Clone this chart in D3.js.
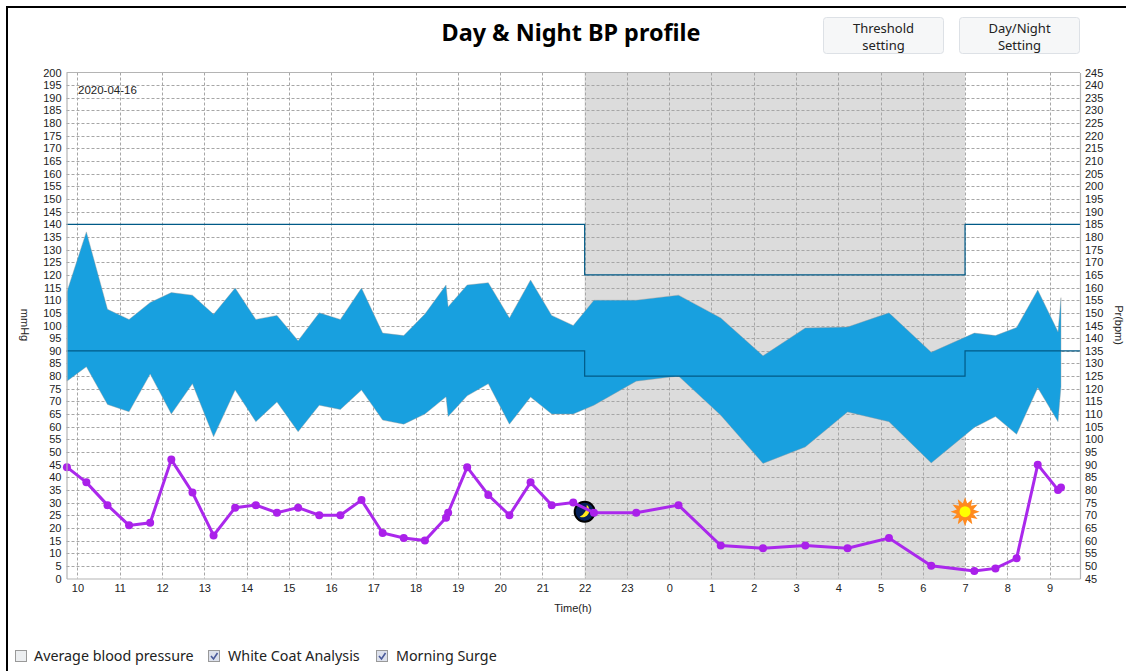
<!DOCTYPE html>
<html>
<head>
<meta charset="utf-8">
<script src="https://cdn.jsdelivr.net/npm/d3@7"></script>
<style>
  html, body { margin: 0; padding: 0; background: #fff; overflow: hidden; }
  text { font-family: "Noto Sans", sans-serif; fill: #222; }
  .tick text { font-family: "Liberation Sans", sans-serif; font-size: 11px; fill: #222; }
  .chico { font-family: "Liberation Sans", sans-serif; font-size: 11px; }
</style>
</head>
<body>
<div id="grafica"></div>
<script>
// hours counted from midnight of the first day, 24+ is the next morning
var horas = [9.75, 10.21, 10.71, 11.22, 11.72, 12.22, 12.72, 13.22, 13.73, 14.22, 14.72, 15.22, 15.72, 16.22, 16.72, 17.22, 17.72, 18.22, 18.72, 18.77, 19.22, 19.72, 20.22, 20.72, 21.22, 21.73, 22.22, 23.22, 24.22, 25.22, 26.22, 27.22, 28.22, 29.2, 30.2, 31.22, 31.72, 32.22, 32.72, 33.2, 33.27];
var sistolica = [113.3, 137, 106.4, 102.4, 109.1, 113, 112, 104.4, 114.8, 102.4, 104, 94, 105, 102.4, 114.8, 97, 96, 104.5, 116, 107.4, 116, 116.9, 103, 118, 104, 100, 110, 110, 112, 103, 88, 99, 99.4, 105, 89.4, 97, 96, 99.2, 114, 97.5, 111];
var diastolica = [78, 83.7, 68.8, 65.9, 80.8, 65, 77, 56, 74.5, 62, 69.8, 58, 68.5, 66.8, 74.5, 62.6, 61, 65, 71.8, 64, 72.2, 77, 61, 71.7, 65, 65, 68.5, 78, 80, 64.5, 45.5, 52, 65.8, 62, 45.7, 59.7, 64, 57, 75.4, 62, 75.8];
var pulso = [89, 83, 74, 66, 67, 92, 79, 62, 73, 74, 71, 73, 70, 70, 76, 63, 61, 60, 69, 71, 89, 78, 70, 83, 74, 75, 71, 71, 74, 58, 57, 58, 57, 61, 50, 48, 49, 53, 90, 80, 81];

var umbralHoras = [9.74, 22, 31, 33.72];
var umbralAlto = [140, 120, 140, 140];
var umbralBajo = [90, 80, 90, 90];

var inicioNoche = 22;
var finNoche = 31;
var marcaIconos = 26.4;

var ticksHora = d3.range(10, 34);
var ticksPresion = d3.range(0, 205, 5);
var ticksPulso = d3.range(45, 250, 5);

var checks = [
  { nombre: 'Average blood pressure', x: 15, texto: 34, marcado: false },
  { nombre: 'White Coat Analysis', x: 208, texto: 228, marcado: true },
  { nombre: 'Morning Surge', x: 376, texto: 396, marcado: true }
];
var botones = [
  { lineas: ['Threshold', 'setting'], x: 823.5 },
  { lineas: ['Day/Night', 'Setting'], x: 959.5 }
];

var contenedor = d3
  .select('#grafica')
  .append('svg')
  .attr('width', 1126)
  .attr('height', 671)
  .style('display', 'block');

const xScale = d3.scaleLinear().domain([9.74, 33.72]).range([66.5, 1080]);
const yScale = d3.scaleLinear().domain([0, 200]).range([578.5, 72.5]);
const yPulso = d3.scaleLinear().domain([45, 245]).range([578.5, 72.5]);

// page frame
contenedor.append('path')
  .attr('d', 'M7,671V7H1126')
  .attr('fill', 'none')
  .attr('stroke', '#000')
  .attr('stroke-width', 2);

contenedor.append('text')
  .attr('x', 571)
  .attr('y', 41)
  .attr('text-anchor', 'middle')
  .style('font-size', '23.4px')
  .style('font-weight', 'bold')
  .style('fill', '#000')
  .text('Day & Night BP profile');

// buttons
botones.forEach(function (b) {
  contenedor.append('rect')
    .attr('x', b.x)
    .attr('y', 17.5)
    .attr('width', 120)
    .attr('height', 36)
    .attr('rx', 3)
    .attr('fill', '#f6f7f8')
    .attr('stroke', '#dde1e6');
  b.lineas.forEach(function (l, i) {
    contenedor.append('text')
      .attr('x', b.x + 60)
      .attr('y', 33 + i * 17)
      .attr('text-anchor', 'middle')
      .style('font-size', '13px')
      .text(l);
  });
});

// night band
contenedor.append('rect')
  .attr('x', xScale(inicioNoche))
  .attr('y', yScale(200))
  .attr('width', xScale(finNoche) - xScale(inicioNoche))
  .attr('height', yScale(0) - yScale(200))
  .attr('fill', '#dcdcdc');

// grid
contenedor.append('g')
  .selectAll('line')
  .data(ticksPresion.slice(1, -1))
  .enter()
  .append('line')
  .attr('x1', xScale.range()[0])
  .attr('x2', xScale.range()[1])
  .attr('y1', function (d) { return Math.round(yScale(d)) + 0.5; })
  .attr('y2', function (d) { return Math.round(yScale(d)) + 0.5; })
  .attr('stroke', '#a6a6a6')
  .attr('stroke-dasharray', '3,2');

contenedor.append('g')
  .selectAll('line')
  .data(ticksHora)
  .enter()
  .append('line')
  .attr('x1', function (d) { return Math.round(xScale(d)) + 0.5; })
  .attr('x2', function (d) { return Math.round(xScale(d)) + 0.5; })
  .attr('y1', yScale(200))
  .attr('y2', yScale(0))
  .attr('stroke', '#a6a6a6')
  .attr('stroke-dasharray', '3,2');

// pressure band
const banda = d3.area()
  .x(function (d) { return xScale(horas[d]); })
  .y0(function (d) { return yScale(diastolica[d]); })
  .y1(function (d) { return yScale(sistolica[d]); });

contenedor.append('path')
  .attr('d', banda(d3.range(horas.length)))
  .attr('fill', '#18a0df')
  .attr('stroke', '#9a9a9a')
  .attr('stroke-opacity', 0.5)
  .attr('stroke-width', 0.8);

// thresholds
const escalon = d3.line()
  .x(function (d) { return xScale(d[0]); })
  .y(function (d) { return yScale(d[1]); })
  .curve(d3.curveStepAfter);

[umbralAlto, umbralBajo].forEach(function (u) {
  contenedor.append('path')
    .attr('d', escalon(umbralHoras.map(function (h, i) { return [h, u[i]]; })))
    .attr('fill', 'none')
    .attr('stroke', '#005a87')
    .attr('stroke-width', 1.2);
});

// moon
var luna = contenedor.append('g')
  .attr('transform', 'translate(' + xScale(inicioNoche) + ',' + yScale(marcaIconos) + ')');
luna.append('circle').attr('r', 10).attr('fill', '#04205a').attr('stroke', '#000').attr('stroke-width', 2);
luna.append('path')
  .attr('d', 'M2,-7A7,7 0 0 1 -5,5A12,12 0 0 0 2,-7Z')
  .attr('fill', '#ffe81a');

// sun
var puntas = d3.range(24).map(function (i) {
  return [i * Math.PI / 12, i % 2 ? 8.5 : 14.5];
});
var sol = contenedor.append('g')
  .attr('transform', 'translate(' + xScale(finNoche) + ',' + yScale(marcaIconos) + ')');
sol.append('path')
  .attr('d', d3.lineRadial().curve(d3.curveLinearClosed)(puntas))
  .attr('fill', '#ff8a1e');
sol.append('circle').attr('r', 5.5).attr('fill', '#ffff00');

// pulse
const lineaPulso = d3.line()
  .x(function (d) { return xScale(horas[d]); })
  .y(function (d) { return yPulso(pulso[d]); });

contenedor.append('path')
  .attr('d', lineaPulso(d3.range(horas.length)))
  .attr('fill', 'none')
  .attr('stroke', '#aa28ec')
  .attr('stroke-width', 3);

contenedor.append('g')
  .selectAll('circle')
  .data(d3.range(horas.length))
  .enter()
  .append('circle')
  .attr('cx', function (d) { return xScale(horas[d]); })
  .attr('cy', function (d) { return yPulso(pulso[d]); })
  .attr('r', 4)
  .attr('fill', '#aa20ea');

// axes
const xAxis = d3.axisBottom(xScale)
  .tickValues(ticksHora)
  .tickSize(0)
  .tickPadding(6)
  .tickFormat(function (d) { return d % 24; });
const yAxis = d3.axisLeft(yScale).tickValues(ticksPresion).tickSize(0).tickPadding(5);
const yAxisDer = d3.axisRight(yPulso).tickValues(ticksPulso).tickSize(0).tickPadding(5);

[
  contenedor.append('g').attr('transform', 'translate(0,578.5)').call(xAxis),
  contenedor.append('g').attr('transform', 'translate(66.5,0)').call(yAxis),
  contenedor.append('g').attr('transform', 'translate(1080,0)').call(yAxisDer)
].forEach(function (g) {
  g.select('.domain').attr('stroke', '#b4b4b4').attr('stroke-width', 1.2);
});

contenedor.append('line')
  .attr('x1', xScale.range()[0])
  .attr('x2', xScale.range()[1])
  .attr('y1', yScale(200))
  .attr('y2', yScale(200))
  .attr('stroke', '#b4b4b4');

// axis titles
contenedor.append('text')
  .attr('class', 'chico')
  .attr('transform', 'translate(21,325) rotate(90)')
  .attr('text-anchor', 'middle')
  .text('mmHg');

contenedor.append('text')
  .attr('class', 'chico')
  .attr('transform', 'translate(1115,325) rotate(90)')
  .attr('text-anchor', 'middle')
  .text('Pr(bpm)');

contenedor.append('text')
  .attr('class', 'chico')
  .attr('x', 573)
  .attr('y', 612)
  .attr('text-anchor', 'middle')
  .text('Time(h)');

contenedor.append('text')
  .attr('class', 'chico')
  .attr('x', 78)
  .attr('y', 94)
  .style('font-size', '11.5px')
  .text('2020-04-16');

// checkboxes
checks.forEach(function (c) {
  contenedor.append('rect')
    .attr('x', c.x + 0.5)
    .attr('y', 650.5)
    .attr('width', 11)
    .attr('height', 11)
    .attr('fill', c.marcado ? '#dde1ec' : '#eceef0')
    .attr('stroke', '#999');
  if (c.marcado) {
    contenedor.append('path')
      .attr('d', 'M' + (c.x + 3) + ',656l2.5,3l4,-6')
      .attr('fill', 'none')
      .attr('stroke', '#4a5a9a')
      .attr('stroke-width', 1.6);
  }
  contenedor.append('text')
    .attr('x', c.texto)
    .attr('y', 661)
    .style('font-size', '14.3px')
    .text(c.nombre);
});
</script>
</body>
</html>
